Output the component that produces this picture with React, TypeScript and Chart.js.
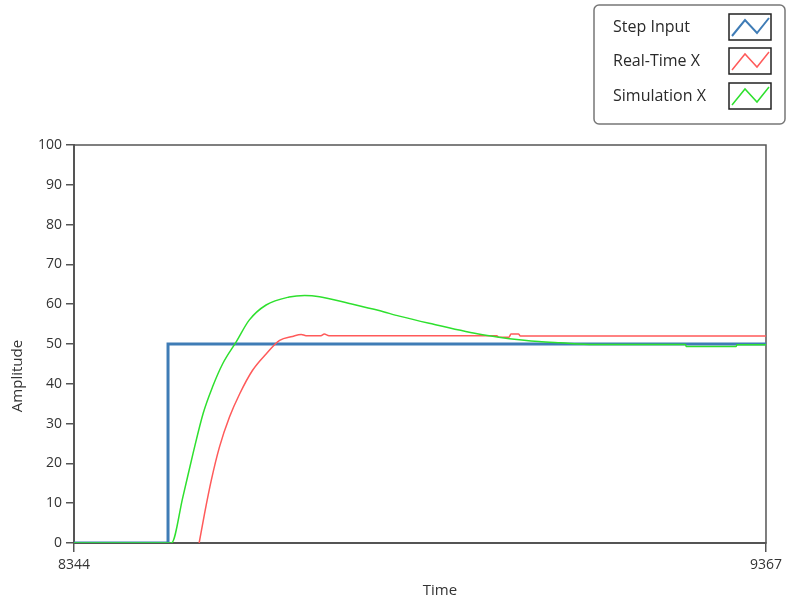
import React, { useEffect, useRef } from 'react';
import { Chart, registerables } from 'chart.js';
Chart.register(...registerables);

const xMin = 8344;
const xMax = 9367;
const xTickValues = [8344, 9367];
const yMin = 0;
const yMax = 100;
const yStep = 10;

const seriesNames = ['Step Input', 'Real-Time X', 'Simulation X'];
const seriesColors = ['#3f7cb6', '#ff5a5a', '#2ee02e'];

const stepX = [8344, 8483, 8483, 9367];
const stepY = [0, 0, 50, 50];

const realX = [8529, 8537, 8547, 8559, 8574, 8589, 8608, 8628, 8648, 8667, 8680, 8687, 8709, 8714, 8721, 8969, 8972, 8987, 8990, 9001, 9004, 9367];
const realY = [0, 7.4, 15.8, 24.1, 31.7, 37.5, 43.4, 47.5, 50.9, 51.9, 52.4, 52.1, 52.1, 52.5, 52.1, 52.1, 51.7, 51.7, 52.5, 52.5, 52.0, 52.0];

const simX = [8344, 8488, 8505, 8520, 8535, 8549, 8564, 8584, 8603, 8628, 8662, 8685, 8707, 8751, 8795, 8825, 8869, 8942, 8972, 9006, 9031, 9063, 9112, 9248, 9249, 9323, 9324, 9367];
const simY = [0, 0, 11.6, 22.5, 32.6, 39.3, 45.1, 50.6, 56, 59.8, 61.8, 62.2, 61.9, 60.2, 58.4, 57.0, 55.2, 52.5, 51.7, 51.0, 50.6, 50.3, 49.9, 49.9, 49.4, 49.4, 49.8, 49.8];

const toPoints = (xs: number[], ys: number[]) => xs.map((x, i) => ({ x, y: ys[i] }));

const FONT = '"Open Sans", "Noto Sans", sans-serif';

const overlayPlugin = {
  id: 'overlay',
  beforeDatasetsDraw(chart: any) {
    const { ctx, chartArea } = chart;
    ctx.save();
    ctx.strokeStyle = '#555';
    ctx.lineWidth = 1.5;
    ctx.strokeRect(chartArea.left, chartArea.top, chartArea.right - chartArea.left, chartArea.bottom - chartArea.top);
    ctx.restore();
  },
  afterDraw(chart: any) {
    const { ctx } = chart;
    ctx.save();
    ctx.fillStyle = '#333';
    ctx.font = `15px ${FONT}`;
    ctx.textAlign = 'center';
    ctx.textBaseline = 'middle';
    ctx.fillText('Time', 440, 591);
    ctx.save();
    ctx.translate(18, 376);
    ctx.rotate(-Math.PI / 2);
    ctx.fillText('Amplitude', 0, 0);
    ctx.restore();

    // legend box
    ctx.beginPath();
    ctx.roundRect(594, 5, 191, 119, 5);
    ctx.fillStyle = '#fff';
    ctx.fill();
    ctx.strokeStyle = '#777';
    ctx.lineWidth = 1.5;
    ctx.stroke();

    const rowsY = [14, 48, 83];
    seriesNames.forEach((name, i) => {
      const by = rowsY[i];
      ctx.fillStyle = '#2a2a2a';
      ctx.font = `16px ${FONT}`;
      ctx.textAlign = 'left';
      ctx.textBaseline = 'middle';
      ctx.fillText(name, 613, by + 13);
      ctx.strokeStyle = '#222';
      ctx.lineWidth = 1.5;
      ctx.strokeRect(729, by, 42, 26);
      ctx.beginPath();
      ctx.moveTo(732, by + 22);
      ctx.lineTo(745, by + 6);
      ctx.lineTo(757, by + 19);
      ctx.lineTo(769, by + 4);
      ctx.strokeStyle = seriesColors[i];
      ctx.lineWidth = i === 0 ? 2 : 1.5;
      ctx.stroke();
    });
    ctx.restore();
  },
};

export default function App() {
  const ref = useRef<HTMLCanvasElement | null>(null);
  useEffect(() => {
    if (!ref.current) return;
    const chart = new Chart(ref.current, {
      type: 'scatter',
      data: {
        datasets: [
          {
            label: seriesNames[0],
            data: toPoints(stepX, stepY),
            showLine: true,
            borderColor: seriesColors[0],
            borderWidth: 3,
            pointRadius: 0,
            order: 2,
          },
          {
            label: seriesNames[1],
            data: toPoints(realX, realY),
            showLine: true,
            borderColor: seriesColors[1],
            borderWidth: 1.5,
            pointRadius: 0,
            cubicInterpolationMode: 'monotone',
            order: 1,
          },
          {
            label: seriesNames[2],
            data: toPoints(simX, simY),
            showLine: true,
            borderColor: seriesColors[2],
            borderWidth: 1.5,
            pointRadius: 0,
            cubicInterpolationMode: 'monotone',
            order: 0,
          },
        ],
      },
      options: {
        responsive: false,
        animation: false,
        layout: { padding: { top: 145, right: 19, left: 0, bottom: 0 } },
        plugins: { legend: { display: false }, tooltip: { enabled: false } },
        scales: {
          x: {
            type: 'linear',
            min: xMin,
            max: xMax,
            afterBuildTicks: (scale: any) => {
              scale.ticks = xTickValues.map((v) => ({ value: v }));
            },
            afterFit: (scale: any) => {
              scale.height = 61;
            },
            ticks: {
              callback: (v: any) => String(v),
              color: '#333',
              font: { family: FONT, size: 14 },
              padding: 5,
              maxRotation: 0,
            },
            grid: { drawOnChartArea: false, drawTicks: true, tickLength: 9, color: '#555', lineWidth: 1.5 },
            border: { display: true, color: '#555', width: 2 },
            title: { display: false },
          },
          y: {
            type: 'linear',
            min: yMin,
            max: yMax,
            afterFit: (scale: any) => {
              scale.width = 74;
            },
            ticks: {
              stepSize: yStep,
              color: '#333',
              font: { family: FONT, size: 14 },
              padding: 4,
            },
            grid: { drawOnChartArea: false, drawTicks: true, tickLength: 8, color: '#555', lineWidth: 1.5 },
            border: { display: true, color: '#555', width: 2 },
            title: { display: false },
          },
        },
      },
      plugins: [overlayPlugin],
    } as any);
    return () => chart.destroy();
  }, []);
  return (
    <div style={{ position: 'absolute', left: 0, top: 0, width: 787, height: 604, background: '#fff' }}>
      <canvas ref={ref} width={787} height={604} style={{ display: 'block' }} />
    </div>
  );
}
